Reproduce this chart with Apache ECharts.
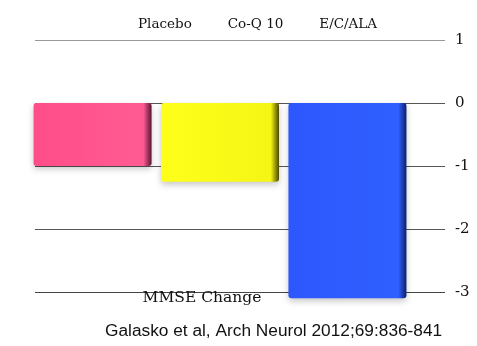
<!DOCTYPE html>
<html>
<head>
<meta charset="utf-8">
<script src="https://cdn.jsdelivr.net/npm/echarts@6/dist/echarts.min.js"></script>
<style>
  html, body { margin: 0; padding: 0; background: #fff; }
  #chart { width: 477px; height: 346px; }
</style>
</head>
<body>
<div id="chart"></div>
<script>
// MMSE change by treatment arm
const categories = ['MMSE Change'];
const seriesNames = ['Placebo', 'Co-Q 10', 'E/C/ALA'];
const placebo = [-1.0];
const coq10 = [-1.25];
const ecala = [-3.1];
const yTicks = { min: -3, max: 1, interval: 1 };

const colors = [
  ['#ff4d88', '#ff5b93', '#5a1430'],
  ['#ffff1c', '#f6f614', '#4a4a00'],
  ['#2c57fd', '#3060ff', '#0c1f6a']
];

function faceStyle(c) {
  return {
    borderRadius: 3,
    color: new echarts.graphic.LinearGradient(0, 0, 1, 0, [
      { offset: 0, color: c[0] },
      { offset: 0.93, color: c[1] },
      { offset: 1, color: c[2] }
    ]),
    shadowColor: 'rgba(0,0,0,0.22)',
    shadowBlur: 6,
    shadowOffsetY: 3
  };
}

const values = [placebo, coq10, ecala];

const chart = echarts.init(document.getElementById('chart'));
chart.setOption({
  animation: false,
  backgroundColor: '#ffffff',
  legend: {
    data: seriesNames,
    icon: 'none',
    itemWidth: 0,
    itemGap: 31,
    top: 12,
    left: 128,
    textStyle: { fontFamily: 'DejaVu Serif', fontSize: 13.5, color: '#111' }
  },
  title: {
    text: 'Galasko et al, Arch Neurol 2012;69:836-841',
    left: 100,
    top: 318,
    textStyle: { fontFamily: 'Liberation Sans', fontSize: 17.3, fontWeight: 'normal', color: '#111' }
  },
  grid: [
    { left: 35, right: 32, top: 40, bottom: 54 },
    { left: 30, right: 67, top: 40, bottom: 54 }
  ],
  xAxis: [
    { gridIndex: 0, type: 'category', data: categories, show: false },
    {
      gridIndex: 1, type: 'category', data: categories,
      axisLine: { show: false }, axisTick: { show: false },
      axisLabel: {
        margin: -2, padding: [0, 36, 0, 0],
        fontFamily: 'DejaVu Serif', fontSize: 15.5, color: '#111'
      }
    }
  ],
  yAxis: [
    {
      gridIndex: 0, type: 'value', position: 'right',
      min: yTicks.min, max: yTicks.max, interval: yTicks.interval,
      axisLine: { show: false }, axisTick: { show: false },
      splitLine: { lineStyle: { color: ['#444', '#555', '#555', '#555', '#999'], width: 1 } },
      axisLabel: { margin: 10, fontFamily: 'DejaVu Serif', fontSize: 15, color: '#111' }
    },
    {
      gridIndex: 1, type: 'value',
      min: yTicks.min, max: yTicks.max, interval: yTicks.interval,
      show: false, splitLine: { show: false }
    }
  ],
  series: seriesNames.map((name, i) => ({
    name: name,
    type: 'bar',
    xAxisIndex: 1,
    yAxisIndex: 1,
    data: values[i],
    barWidth: 118,
    barGap: '8%',
    clip: false,
    itemStyle: faceStyle(colors[i])
  }))
});
</script>
</body>
</html>
